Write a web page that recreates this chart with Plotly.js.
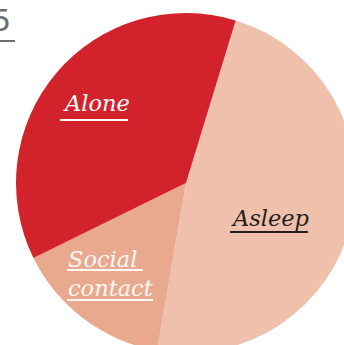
<!DOCTYPE html>
<html>
<head>
<meta charset="utf-8">
<script src="https://cdn.plot.ly/plotly-3.0.1.min.js"></script>
<style>
html,body{margin:0;padding:0;overflow:hidden;background:#fff;width:344px;height:345px;}
#chart{position:absolute;left:0;top:0;width:372px;height:366px;}
</style>
</head>
<body>
<div id="chart"></div>
<script>
// Data
var labels = ["Asleep", "Social contact", "Alone"];
var values = [48, 15, 37];
var labelText = ["Asleep", "Social<br>contact", "Alone"];
var figureNumber = "5";

// Styles
var sliceColors = ["#efc0ab", "#e9a98f", "#d2232c"];

var W = 372, H = 366, ML = 16, MR = 16, MT = 13, MB = 13;
var PW = W - ML - MR, PH = H - MT - MB;
function px(x){ return (x - ML) / PW; }
function py(y){ return (H - MB - y) / PH; }

var font = "DejaVu Serif, serif";
var fs = 22.5;

var annotations = [
  {text: "<i>" + labelText[2] + "</i>", x: px(61), y: py(103), color: "#ffffff"},
  {text: "<i>" + labelText[0] + "</i>", x: px(229), y: py(218), color: "#231f20"},
  {text: "<i>" + labelText[1] + "</i>", x: px(66), y: py(273), color: "#fff8f4"}
].map(function(a){
  return {text: a.text, x: a.x, y: a.y, xref: "paper", yref: "paper",
    xanchor: "left", yanchor: "middle", align: "left", showarrow: false,
    font: {family: font, size: fs, color: a.color}};
});
annotations.push({text: figureNumber, x: px(13), y: py(20), xref: "paper", yref: "paper",
  xanchor: "right", yanchor: "middle", showarrow: false,
  font: {family: "DejaVu Sans, sans-serif", size: 30, color: "#6d6e71"}});

function uline(x0, x1, y, color){
  return {type: "line", xref: "paper", yref: "paper", x0: px(x0), x1: px(x1), y0: py(y), y1: py(y),
    line: {color: color, width: 2}};
}
var shapes = [
  uline(60, 128, 120, "#ffffff"),
  uline(230, 308, 232, "#231f20"),
  uline(67, 143, 270, "#fff8f4"),
  uline(67, 153, 300, "#fff8f4"),
  uline(-2, 15, 41, "#6d6e71")
];

var trace = {
  type: "pie",
  labels: labels,
  values: values,
  sort: false,
  direction: "clockwise",
  rotation: 17,
  textinfo: "none",
  hoverinfo: "label+percent",
  marker: {colors: sliceColors, line: {width: 0}},
  domain: {x: [0, 1], y: [0, 1]}
};

var layout = {
  width: W, height: H,
  margin: {l: ML, r: MR, t: MT, b: MB, pad: 0},
  showlegend: false,
  paper_bgcolor: "#ffffff",
  annotations: annotations,
  shapes: shapes
};

Plotly.newPlot("chart", [trace], layout, {displayModeBar: false, staticPlot: true});
</script>
</body>
</html>
